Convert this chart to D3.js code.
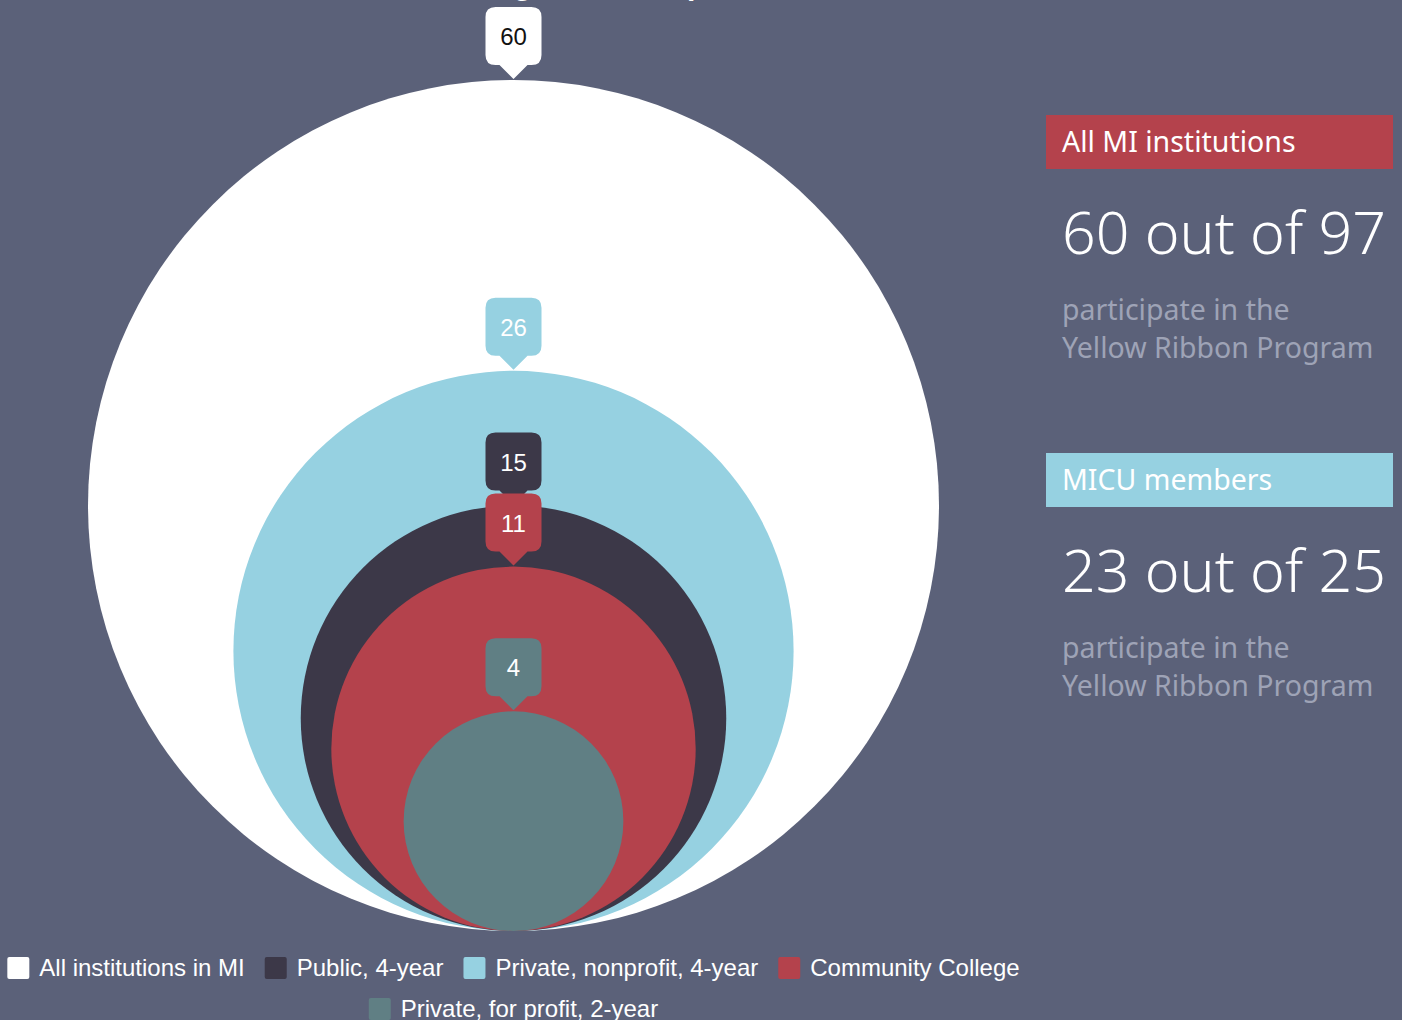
<!DOCTYPE html>
<html>
<head>
<meta charset="utf-8">
<script src="https://cdn.jsdelivr.net/npm/d3@7"></script>
<style>
  html, body { margin: 0; padding: 0; background: #5b6179; overflow: hidden; }
  svg { display: block; }
</style>
</head>
<body>
<svg id="chart" width="1402" height="1020"></svg>
<script>
(function () {
  "use strict";

  // data
  var categories = ["All institutions in MI", "Public, 4-year", "Private, nonprofit, 4-year", "Community College", "Private, for profit, 2-year"];
  var values = [60, 15, 26, 11, 4];
  var colors = ["#ffffff", "#3c3848", "#96d1e1", "#b4424c", "#607f84"];
  var labelColors = ["#111111", "#ffffff", "#ffffff", "#ffffff", "#ffffff"];

  var panelTitles = ["All MI institutions", "MICU members"];
  var panelColors = ["#b4424c", "#96d1e1"];
  var panelCounts = ["60 out of 97", "23 out of 25"];
  var panelNote = ["participate in the", "Yellow Ribbon Program"];

  var svg = d3.select("#chart");
  var cx = 513.5, bottom = 931;

  var rows = categories.map(function (c, i) {
    return { name: c, value: values[i], color: colors[i], textColor: labelColors[i] };
  });
  var drawOrder = rows.slice().sort(function (a, b) { return b.value - a.value; });

  var r = d3.scaleSqrt().domain([0, d3.max(values)]).range([0, 425.5]);

  // title sits mostly above the frame, as in the reference
  svg.append("text")
    .attr("x", cx).attr("y", -5)
    .attr("text-anchor", "middle")
    .attr("font-family", "Liberation Sans, Arial, sans-serif")
    .attr("font-size", 30).attr("font-weight", "bold")
    .attr("fill", "#ffffff")
    .text("Yellow Ribbon Program Participation");

  svg.append("g").selectAll("circle")
    .data(drawOrder)
    .join("circle")
    .attr("cx", cx)
    .attr("cy", function (d) { return bottom - r(d.value); })
    .attr("r", function (d) { return r(d.value); })
    .attr("fill", function (d) { return d.color; });

  // value bubbles
  var bw = 56, bh = 58, rad = 10, tipH = 14, tipW = 14;
  function bubblePath(x, tipY) {
    var top = tipY - tipH - bh, l = x - bw / 2, rr = x + bw / 2, b = tipY - tipH;
    return "M" + (l + rad) + "," + top +
      "H" + (rr - rad) + "Q" + rr + "," + top + " " + rr + "," + (top + rad) +
      "V" + (b - rad) + "Q" + rr + "," + b + " " + (rr - rad) + "," + b +
      "H" + (x + tipW) + "L" + x + "," + tipY + "L" + (x - tipW) + "," + b +
      "H" + (l + rad) + "Q" + l + "," + b + " " + l + "," + (b - rad) +
      "V" + (top + rad) + "Q" + l + "," + top + " " + (l + rad) + "," + top + "Z";
  }
  var bubbles = svg.append("g").selectAll("g")
    .data(drawOrder)
    .join("g");
  bubbles.append("path")
    .attr("d", function (d) { return bubblePath(cx, bottom - 2 * r(d.value) - 1); })
    .attr("fill", function (d) { return d.color; });
  bubbles.append("text")
    .attr("x", cx)
    .attr("y", function (d) { return bottom - 2 * r(d.value) - 1 - tipH - bh / 2 + 9; })
    .attr("text-anchor", "middle")
    .attr("font-family", "Liberation Sans, Arial, sans-serif")
    .attr("font-size", 24)
    .attr("fill", function (d) { return d.textColor; })
    .text(function (d) { return d.value; });

  // legend, centred under the circles
  var legendFont = "Liberation Sans, Arial, sans-serif";
  var legendSize = 24;
  var legendRows = [rows.slice(0, 4), rows.slice(4)];
  var sw = 22, gapAfterSwatch = 10, gapItem = 20;
  var measure = svg.append("text").attr("font-family", legendFont).attr("font-size", legendSize);
  legendRows.forEach(function (items, ri) {
    var widths = items.map(function (d) {
      measure.text(d.name);
      return sw + gapAfterSwatch + measure.node().getComputedTextLength();
    });
    var total = d3.sum(widths) + gapItem * (items.length - 1);
    var x = cx - total / 2;
    var y = 968 + ri * 41;
    var g = svg.append("g");
    items.forEach(function (d, i) {
      g.append("rect")
        .attr("x", x).attr("y", y - sw / 2).attr("width", sw).attr("height", sw)
        .attr("rx", 2)
        .attr("fill", d.color);
      g.append("text")
        .attr("x", x + sw + gapAfterSwatch).attr("y", y + 8)
        .attr("font-family", legendFont).attr("font-size", legendSize)
        .attr("fill", "#ffffff")
        .text(d.name);
      x += widths[i] + gapItem;
    });
  });
  measure.remove();

  // right-hand panels
  var panelFont = "Noto Sans, Open Sans, sans-serif";
  panelTitles.forEach(function (t, i) {
    var top = 115 + i * 338;
    var g = svg.append("g");
    g.append("rect")
      .attr("x", 1046).attr("y", top).attr("width", 347).attr("height", 54)
      .attr("fill", panelColors[i]);
    g.append("text")
      .attr("x", 1062).attr("y", top + 37)
      .attr("font-family", panelFont).attr("font-size", 28.5)
      .attr("fill", "#ffffff")
      .text(t);
    g.append("text")
      .attr("x", 1062).attr("y", top + 139)
      .attr("font-family", panelFont).attr("font-size", 59).attr("font-weight", 300)
      .attr("fill", "#ffffff")
      .text(panelCounts[i]);
    panelNote.forEach(function (line, li) {
      g.append("text")
        .attr("x", 1062).attr("y", top + 205 + li * 38)
        .attr("font-family", panelFont).attr("font-size", 28.5)
        .attr("fill", "#9ea3b6")
        .text(line);
    });
  });
})();
</script>
</body>
</html>
